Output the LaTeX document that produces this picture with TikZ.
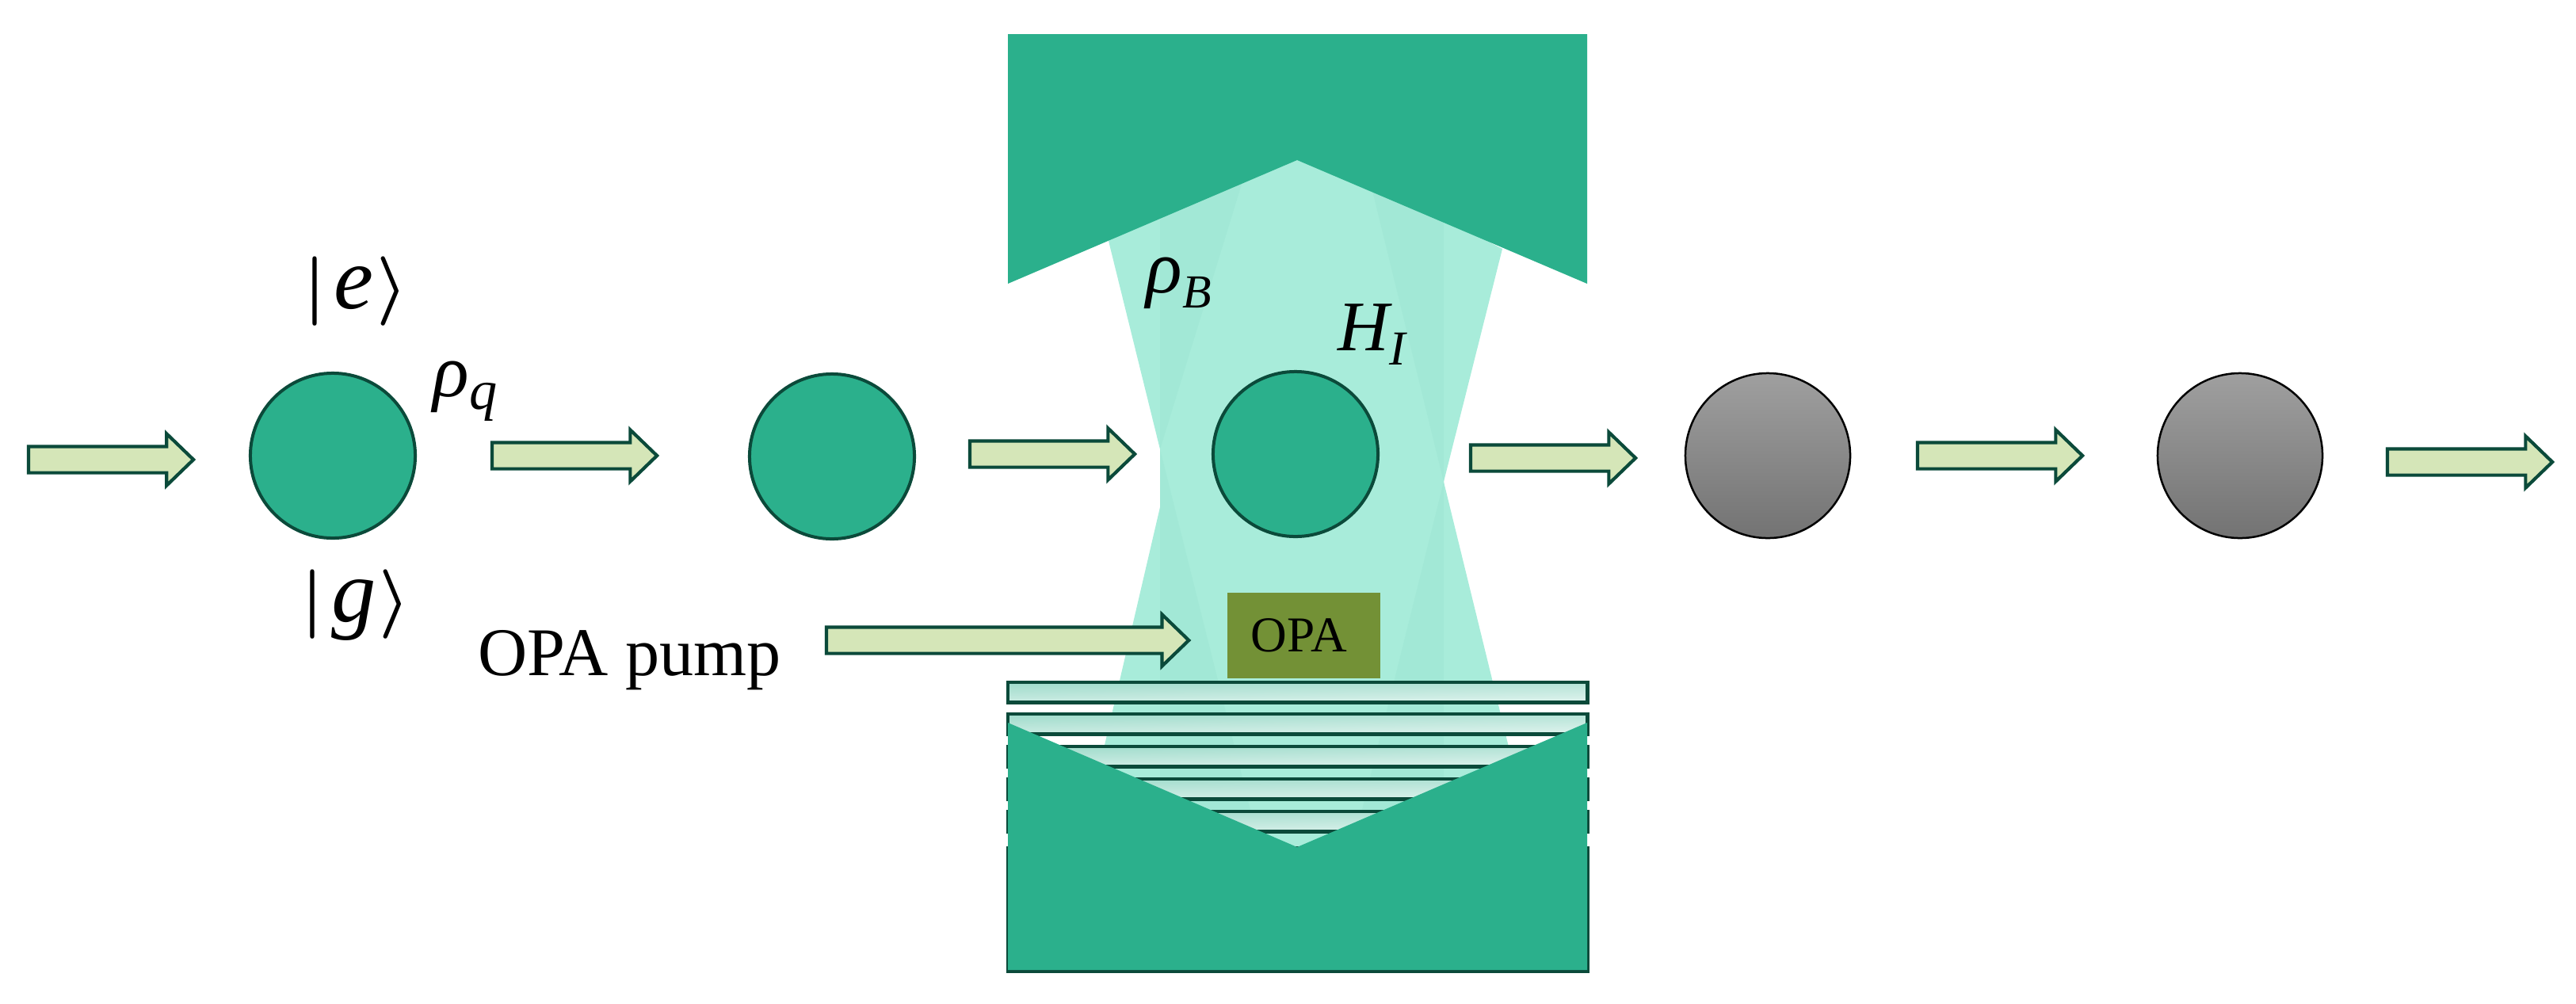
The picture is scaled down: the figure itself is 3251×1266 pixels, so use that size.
\documentclass[tikz,border=0pt]{standalone}
\usepackage{fontspec}
\setmainfont{Liberation Serif}
\usetikzlibrary{shapes.arrows}

\definecolor{mirrorgreen}{HTML}{2BB08C}
\definecolor{edgegreen}{HTML}{0B4A3A}
\definecolor{beamlight}{HTML}{A8ECDA}
\definecolor{beamdark}{HTML}{A2E8D6}
\definecolor{arrowfill}{HTML}{D5E6B8}
\definecolor{opagreen}{HTML}{739136}

\begin{document}
\begin{tikzpicture}[x=0.01cm,y=-0.01cm]

\newcommand*{\letter}[2]{{\fontsize{#1}{#1}\selectfont\itshape #2}}
\newcommand*{\lowered}[3]{\raisebox{-#1}{\letter{#2}{#3}}}
\newcommand*{\ket}[1]{{\fontsize{25}{30}\selectfont\boldmath$|$\kern1mm\letter{32}{#1}\kern0.4mm$\rangle$}}

\tikzstyle {flow}=[draw=edgegreen,fill=arrowfill,line width=0.42mm,shape=single arrow,
     anchor=tail,inner sep=1.45mm,outer sep=0pt,minimum height=20.8mm,minimum width=6.2mm,
     single arrow head extend=1.6mm,single arrow tip angle=88];

\tikzstyle {qubit}=[draw=edgegreen,fill=mirrorgreen,line width=0.4mm,shape=circle,
     minimum size=20.8mm,inner sep=0pt,outer sep=0pt];

\tikzstyle {decayed}=[qubit,draw=black,line width=0.25mm,top color=gray!75,bottom color=black!55];

\tikzstyle {layer}=[draw=edgegreen,line width=0.42mm,shape=rectangle,anchor=north west,
     minimum width=73.1mm,minimum height=2.55mm,inner sep=0pt,outer sep=0pt,
     top color=mirrorgreen!45,bottom color=mirrorgreen!15,shading angle=1];

\tikzstyle {mirror}=[fill=mirrorgreen];

\tikzstyle {symbol}=[inner sep=0pt,anchor=base west];

\useasboundingbox (0,0) rectangle (3251,1266);

% Cavity field
\fill [beamlight] (1399,304) -- (1464,567) -- (1464,640) -- (1364,1069) -- (1935,1069)
     -- (1822,608) -- (1896,314) -- (1637,180) -- cycle;
\fill [beamdark] (1464,260) -- (1577,200) -- (1464,567) -- cycle;
\fill [beamdark] (1464,567) -- (1600,1110) -- (1464,1110) -- cycle;
\fill [beamdark] (1822,260) -- (1722,200) -- (1822,608) -- cycle;
\fill [beamdark] (1822,608) -- (1822,1110) -- (1697,1110) -- cycle;

% Bragg layers
\foreach \ytop/\name in {861/l1,901/l2,942/l3,983/l4,1024/l5}
  \draw (1272,\ytop) node [layer] (\name) {};
\draw (1272,1070) node [layer,minimum height=15.6mm] (l6) {};

% Mirrors
\fill [mirror] (1272,43) -- (2003,43) -- (2003,358) -- (1637,202) -- (1272,358) -- cycle;
\fill [mirror] (1272,912) -- (1637,1069) -- (2003,912) -- (2003,1224) -- (1272,1224) -- cycle;

% Qubits
\draw (420,575) node [qubit] (q1) {};
\draw (1050,576) node [qubit] (q2) {};
\draw (1635,573) node [qubit] (q3) {};
\draw (2231,575) node [decayed] (q4) {};
\draw (2827,575) node [decayed] (q5) {};

% Flow of qubits
\draw (36,580) node [flow] (f1) {};
\draw (621,575) node [flow] (f2) {};
\draw (1224,573) node [flow] (f3) {};
\draw (1856,578) node [flow] (f4) {};
\draw (2420,575) node [flow] (f5) {};
\draw (3013,583) node [flow] (f6) {};
\draw (1043,808) node [flow,minimum height=45.7mm] (fp) {};

% OPA
\draw (1548,747) node [fill=opagreen,anchor=north west,minimum width=19.3mm,
     minimum height=10.8mm,inner sep=0pt,font=\fontsize{18}{22}\selectfont] (opa) {\kern-1.2mm OPA};
\draw (603,852) node [anchor=base west,inner sep=0pt,font=\fontsize{24.5}{28}\selectfont] (pump) {OPA pump};

% Labels
\draw (449,368) node [inner sep=0pt] (ket-e) {\ket{e}};
\draw (449,764) node [inner sep=0pt] (ket-g) {\ket{g}};
\draw (546,500) node [symbol] (rho-q) {\letter{27}{ρ}\lowered{1.6mm}{20}{q}};
\draw (1446,369) node [symbol] (rho-b) {\letter{27}{ρ}\lowered{1.9mm}{17}{B}};
\draw (1688,442) node [symbol] (h-i) {\letter{25.5}{H}\lowered{1.8mm}{17.5}{I}};
\end{tikzpicture}
\end{document}
